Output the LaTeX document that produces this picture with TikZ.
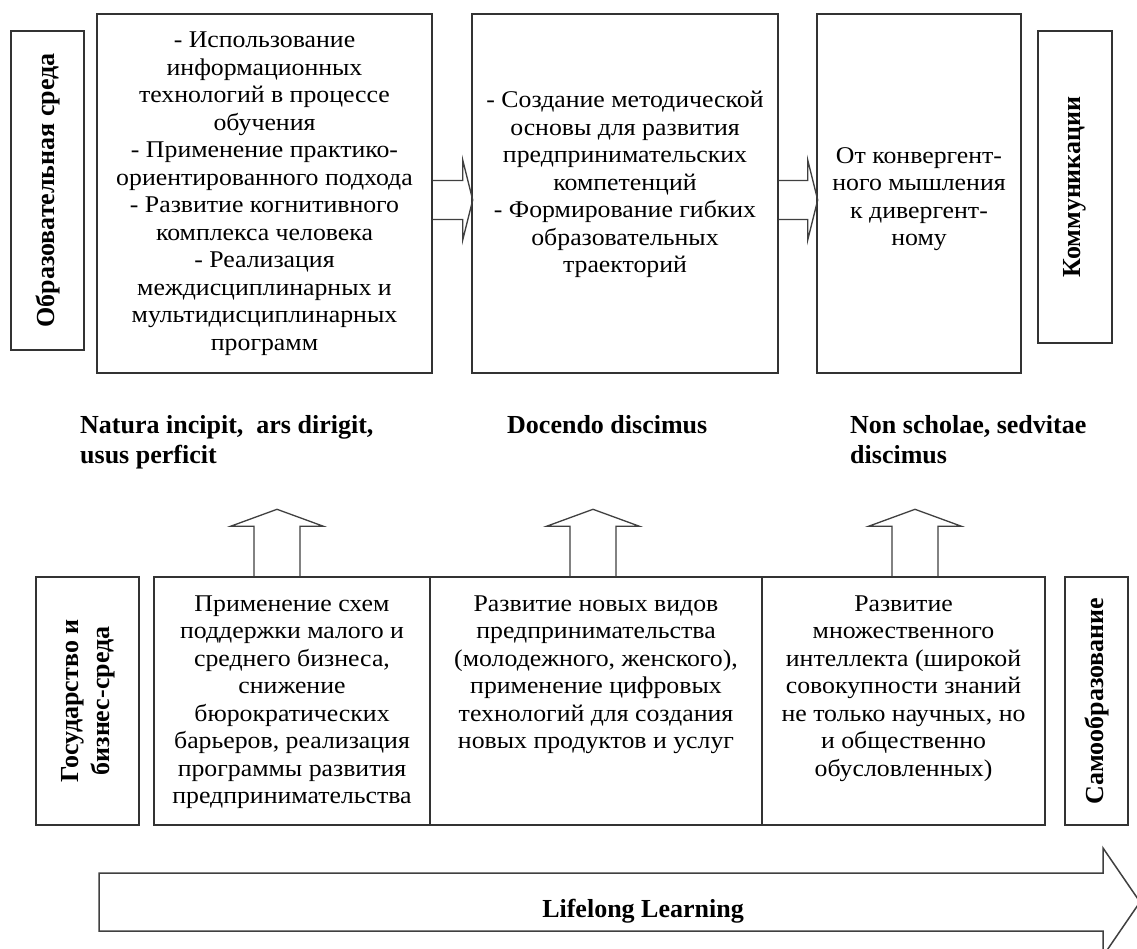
\documentclass[tikz,border=0pt]{standalone}
\usepackage{fontspec}
\usepackage{graphicx}
\setmainfont{Liberation Serif}[FakeStretch=1.075]
\newfontfamily\tnr{Liberation Serif}
\usetikzlibrary{calc}
\newcommand\lines[1]{\begin{tabular}{@{}c@{}}#1\end{tabular}}
\newcommand\topcell[3]{\vbox to #1{\kern#2\hbox{\lines{#3}}\vfill}}
\begin{document}
\begin{tikzpicture}[x=1pt,y=-1pt,
  line/.style={draw=black!80, line width=1.4pt},
  box/.style={line, inner sep=0pt, font=\fontsize{24}{27.5}\selectfont},
  lab/.style={line, inner sep=0pt, font=\tnr\bfseries\fontsize{26}{31}\selectfont},
  fat/.style={draw=black!75, line width=1.3pt, line join=miter},
  motto/.style={anchor=north west, inner sep=0pt, align=left, font=\tnr\bfseries\fontsize{26}{30}\selectfont}]
\fill[white] (0,0) rectangle (1137,949);
\useasboundingbox (0,0) rectangle (1137,949);

% top row
\node[lab, minimum width=73pt, minimum height=319pt] (obr) at (47.5,190.5) {\rotatebox{90}{Образовательная среда}};
\node[box, minimum width=335pt, minimum height=359pt] (b1) at (264.5,193.5) {\lines{- Использование\\ информационных\\ технологий в процессе\\ обучения\\ - Применение практико-\\ ориентированного подхода\\ - Развитие когнитивного\\ комплекса человека\\ - Реализация\\ междисциплинарных и\\ мультидисциплинарных\\ программ}};
\node[box, minimum width=306pt, minimum height=359pt] (b2) at (625,193.5) {\vbox{\hbox{\lines{- Создание методической\\ основы для развития\\ предпринимательских\\ компетенций\\ - Формирование гибких\\ образовательных\\ траекторий}}\kern17pt}};
\node[box, minimum width=204pt, minimum height=359pt] (b3) at (919,193.5) {\vbox{\kern11pt\hbox{\lines{От конвергент-\\ ного мышления\\ к дивергент-\\ ному}}}};
\node[lab, minimum width=74pt, minimum height=312pt] (kom) at (1075,187) {\rotatebox{90}{Коммуникации}};

\draw[fat] ($(b1.east)+(0,-13)$) -- ++(30,0) -- ++(0,-20.5) -- ++(10,40) -- ++(-10,40) -- ++(0,-20.5) -- ++(-30,0);
\draw[fat] ($(b2.east)+(0,-13)$) -- ++(29,0) -- ++(0,-20.5) -- ++(10,40) -- ++(-10,40) -- ++(0,-20.5) -- ++(-29,0);

% mottos
\node[motto] (m1) at (80,415) {Natura incipit,~ ars dirigit,\\usus perficit};
\node[motto] (m2) at (507,415) {Docendo discimus};
\node[motto] (m3) at (850,415) {Non scholae, sedvitae\\discimus};

% bottom row
\node[lab, minimum width=103pt, minimum height=248pt] (gos) at (87.5,701) {\rotatebox{90}{\lines{Государство и\\ бизнес-среда}}};
\node[box, minimum width=276pt, minimum height=248pt] (c1) at (292,701) {\topcell{248pt}{14.75pt}{Применение схем\\ поддержки малого и\\ среднего бизнеса,\\ снижение\\ бюрократических\\ барьеров, реализация\\ программы развития\\ предпринимательства}};
\node[box, minimum width=332pt, minimum height=248pt] (c2) at (596,701) {\topcell{248pt}{14.75pt}{Развитие новых видов\\ предпринимательства\\ (молодежного, женского),\\ применение цифровых\\ технологий для создания\\ новых продуктов и услуг}};
\node[box, minimum width=283pt, minimum height=248pt] (c3) at (903.5,701) {\topcell{248pt}{14.75pt}{Развитие\\ множественного\\ интеллекта (широкой\\ совокупности знаний\\ не только научных, но\\ и общественно\\ обусловленных)}};
\node[lab, minimum width=63pt, minimum height=248pt] (sam) at (1096.5,701) {\rotatebox{90}{Самообразование}};

% up arrows
\draw[fat] ($(c1.north)+(-38,0)$) -- ++(0,-50) -- ++(-23.5,0) -- ++(46.5,-17) -- ++(46.5,17) -- ++(-23.5,0) -- ++(0,50);
\draw[fat] ($(c2.north)+(-26,0)$) -- ++(0,-50) -- ++(-23.5,0) -- ++(46.5,-17) -- ++(46.5,17) -- ++(-23.5,0) -- ++(0,50);
\draw[fat] ($(c3.north)+(-11.5,0)$) -- ++(0,-50) -- ++(-23.5,0) -- ++(46.5,-17) -- ++(46.5,17) -- ++(-23.5,0) -- ++(0,50);

% lifelong learning
\draw[fat, line width=1.5pt] (99,873) -- (1103,873) -- (1103,848) -- (1140,902) -- (1103,956) -- (1103,931) -- (99,931) -- cycle;
\node[inner sep=0pt, font=\tnr\bfseries\fontsize{26}{31}\selectfont] (life) at (643,911) {Lifelong Learning};
\end{tikzpicture}
\end{document}
